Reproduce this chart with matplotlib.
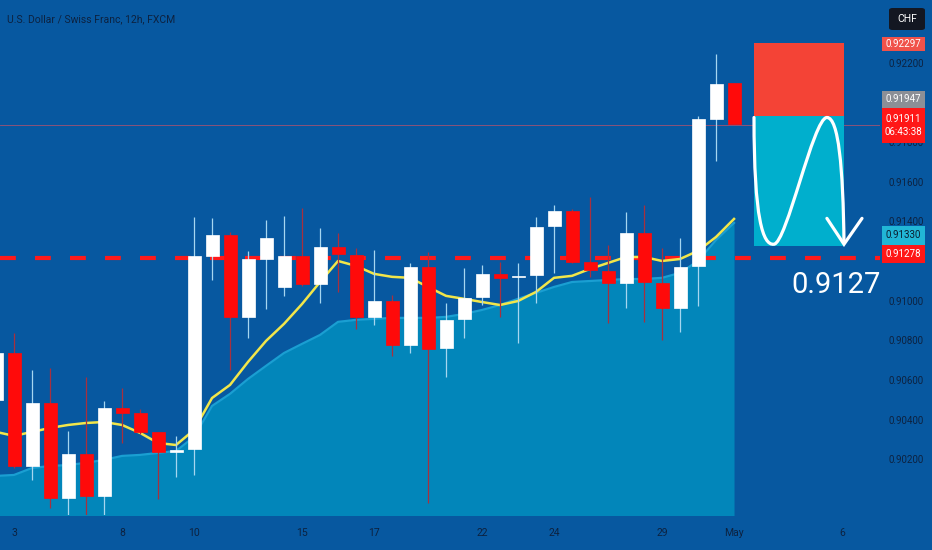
import numpy as np
import matplotlib
matplotlib.use("Agg")
import matplotlib.pyplot as plt
from matplotlib.path import Path
from matplotlib.patches import PathPatch, Rectangle, FancyBboxPatch
from matplotlib.ticker import FormatStrFormatter

plt.rcParams['font.family'] = ['Roboto', 'DejaVu Sans']

# 12h candles, index 0 = Apr 3
idx = list(range(-1, 41))
opens = [0.90500, 0.90736, 0.90166, 0.90484, 0.90005, 0.90227, 0.90015, 0.90459, 0.90434, 0.90338,
         0.90237, 0.90252, 0.91225, 0.91331, 0.90918, 0.91210, 0.91069, 0.91225, 0.91084, 0.91271,
         0.91230, 0.90918, 0.90999, 0.90777, 0.91170, 0.90761, 0.90908, 0.91019, 0.91135, 0.91120,
         0.91130, 0.91377, 0.91452, 0.91195, 0.91150, 0.91089, 0.91341, 0.91089, 0.90963, 0.91175,
         0.91916, 0.92098]
closes = [0.90736, 0.90166, 0.90484, 0.90005, 0.90227, 0.90015, 0.90459, 0.90434, 0.90338, 0.90237,
          0.90247, 0.91225, 0.91331, 0.90918, 0.91210, 0.91316, 0.91225, 0.91084, 0.91271, 0.91236,
          0.90918, 0.90999, 0.90777, 0.91170, 0.90756, 0.90903, 0.91014, 0.91135, 0.91115, 0.91125,
          0.91372, 0.91452, 0.91195, 0.91155, 0.91089, 0.91341, 0.91094, 0.90963, 0.91170, 0.91916,
          0.92093, 0.91891]
highs = [0.90780, 0.90837, 0.90651, 0.90661, 0.90343, 0.90615, 0.90494, 0.90560, 0.90454, 0.90338,
         0.90318, 0.91422, 0.91417, 0.91346, 0.91251, 0.91407, 0.91427, 0.91468, 0.91367, 0.91341,
         0.91266, 0.91256, 0.91029, 0.91190, 0.91246, 0.90988, 0.91165, 0.91180, 0.91195, 0.91190,
         0.91422, 0.91483, 0.91460, 0.91523, 0.91281, 0.91447, 0.91483, 0.91266, 0.91316, 0.91931,
         0.92244, 0.92098]
lows = [0.90450, 0.90156, 0.90096, 0.89955, 0.89909, 0.89919, 0.89919, 0.90282, 0.90328, 0.90000,
        0.90111, 0.90121, 0.91104, 0.90651, 0.90812, 0.90958, 0.91024, 0.91074, 0.90988, 0.91044,
        0.90857, 0.90877, 0.90721, 0.90736, 0.89980, 0.90615, 0.90812, 0.90978, 0.90918, 0.90787,
        0.90988, 0.91140, 0.91190, 0.91120, 0.90888, 0.90963, 0.90893, 0.90802, 0.90842, 0.90973,
        0.91705, 0.91891]
ma = [0.90338, 0.90318, 0.90338, 0.90358, 0.90373, 0.90383, 0.90388, 0.90373, 0.90333, 0.90282,
      0.90272, 0.90348, 0.90509, 0.90575, 0.90691, 0.90797, 0.90883, 0.90983, 0.91094, 0.91200,
      0.91175, 0.91135, 0.91120, 0.91115, 0.91069, 0.91024, 0.91009, 0.90993, 0.90978, 0.90998,
      0.91044, 0.91115, 0.91125, 0.91160, 0.91190, 0.91220, 0.91220, 0.91200, 0.91210, 0.91251,
      0.91321, 0.91412]
area = [0.90116, 0.90121, 0.90156, 0.90166, 0.90171, 0.90182, 0.90197, 0.90217, 0.90222, 0.90232,
        0.90242, 0.90313, 0.90469, 0.90530, 0.90605, 0.90671, 0.90736, 0.90782, 0.90827, 0.90893,
        0.90903, 0.90908, 0.90913, 0.90913, 0.90913, 0.90918, 0.90933, 0.90953, 0.90978, 0.91009,
        0.91039, 0.91069, 0.91094, 0.91099, 0.91104, 0.91109, 0.91109, 0.91115, 0.91140, 0.91200,
        0.91306, 0.91392]

day_pos = [0, 6, 10, 16, 20, 26, 30, 36, 40, 46]
day_labels = ['3', '8', '10', '15', '17', '22', '24', '29', 'May', '6']
# 0.920 and 0.912 sit under the price tags
price_ticks = [0.902, 0.904, 0.906, 0.908, 0.910, 0.914, 0.916, 0.918, 0.922]

level = 0.91215
last_price = 0.91886
entry = 0.91930
stop = 0.92297
target = 0.91278
box_x0, box_x1 = 41.11, 46.11

BG = '#0758a0'
TXT = '#0d2240'

fig = plt.figure(figsize=(9.32, 5.5), dpi=100)
fig.patch.set_facecolor(BG)
ax = fig.add_axes([0, 35 / 550, 880 / 932, 515 / 550])
ax.set_facecolor(BG)
ax.set_xlim(-0.78, 48.11)
ax.set_ylim(0.89919, 0.92516)
for s in ax.spines.values():
    s.set_visible(False)

# area + moving average
ax.fill_between(idx, area, 0.89, color='#0286ba', lw=0, zorder=1)
ax.plot(idx, area, color='#1a9fd2', lw=1.6, zorder=1.2)
ax.axhline(level, color='#ff1a1a', lw=3, dashes=(3.8, 4.6), zorder=2)
ax.axhline(last_price, color='#e25060', lw=0.6, alpha=0.7, zorder=1.5)
ax.plot(idx, ma, color='#f2e64a', lw=1.8, zorder=3)

# candles
for i, o, h, l, c in zip(idx, opens, highs, lows, closes):
    up = c >= o
    body = '#ffffff' if up else '#ff0a0a'
    wick = '#a6d6f0' if up else '#a8303e'
    ax.vlines(i, l, h, color=wick, lw=0.9, zorder=4)
    ax.bar(i, abs(c - o), bottom=min(o, c), width=0.72, color=body,
           edgecolor=body, lw=0.5, zorder=5)

# short position box
w = box_x1 - box_x0
ax.add_patch(Rectangle((box_x0, entry), w, stop - entry, fc='#f44336', ec='none', zorder=6))
ax.add_patch(Rectangle((box_x0, target), w, entry - target, fc='#00afcd', ec='none', zorder=6))


def bx(u, v):
    return (box_x0 + u * w, target + v * (entry - target))


verts = [bx(0.0, 0.99),
         bx(0.0, 0.2), bx(0.1, 0.0), bx(0.22, 0.01),
         bx(0.36, 0.01), bx(0.66, 0.99), bx(0.81, 0.99),
         bx(0.94, 0.99), bx(0.99, 0.6), bx(1.0, 0.02)]
codes = [Path.MOVETO] + [Path.CURVE4] * 9
ax.add_patch(PathPatch(Path(verts, codes), fc='none', ec='white', lw=2.3,
                       capstyle='round', zorder=7))
arrow = [bx(0.81, 0.21), bx(1.0, 0.01), bx(1.2, 0.21)]
ax.plot([p[0] for p in arrow], [p[1] for p in arrow], color='white', lw=2.3,
        solid_capstyle='round', solid_joinstyle='miter', zorder=7, clip_on=False)

ax.text(45.67, 0.91079, '0.9127', color='white', fontsize=21, ha='center', va='center', zorder=8)

# axes
ax.set_xticks(day_pos, day_labels)
ax.tick_params(axis='x', length=0, pad=9, labelsize=7.5, labelcolor=TXT)
ax.yaxis.tick_right()
ax.set_yticks(price_ticks)
ax.yaxis.set_major_formatter(FormatStrFormatter('%.5f'))
ax.tick_params(axis='y', length=0, pad=6, labelsize=7, labelcolor=TXT)

fig.text(7 / 932, 1 - 19 / 550, 'U.S. Dollar / Swiss Franc, 12h, FXCM', color=TXT,
         fontsize=7.5, ha='left', va='center')


# price scale tags
def tag(y0, y1, lines, fc, tc, x0=882, x1=925):
    fig.add_artist(Rectangle((x0 / 932, 1 - y1 / 550), (x1 - x0) / 932, (y1 - y0) / 550,
                             transform=fig.transFigure, fc=fc, ec='none', zorder=5))
    fig.text((x0 + x1) / 2 / 932, 1 - (y0 + y1) / 2 / 550, lines, color=tc, fontsize=7,
             ha='center', va='center', linespacing=1.3, zorder=6)


fig.add_artist(FancyBboxPatch((889 / 932, 1 - 30 / 550), 36 / 932, 22 / 550,
                              boxstyle='round,pad=0,rounding_size=0.004',
                              transform=fig.transFigure, fc='#131722', ec='none', zorder=5))
fig.text(907 / 932, 1 - 19 / 550, 'CHF', color='white', fontsize=7.5, ha='center',
         va='center', zorder=6)
tag(37, 51, '0.92297', '#f0524a', 'white')
tag(91, 108, '0.91947', '#8c8f96', 'white')
tag(108, 143, '0.91911\n06:43:38', '#ff1717', 'white')
tag(226, 245, '0.91330', '#21b6d6', '#0b1d30')
tag(245, 263, '0.91278', '#ff1717', 'white')

fig.savefig('out.png', dpi=100, facecolor=BG)
